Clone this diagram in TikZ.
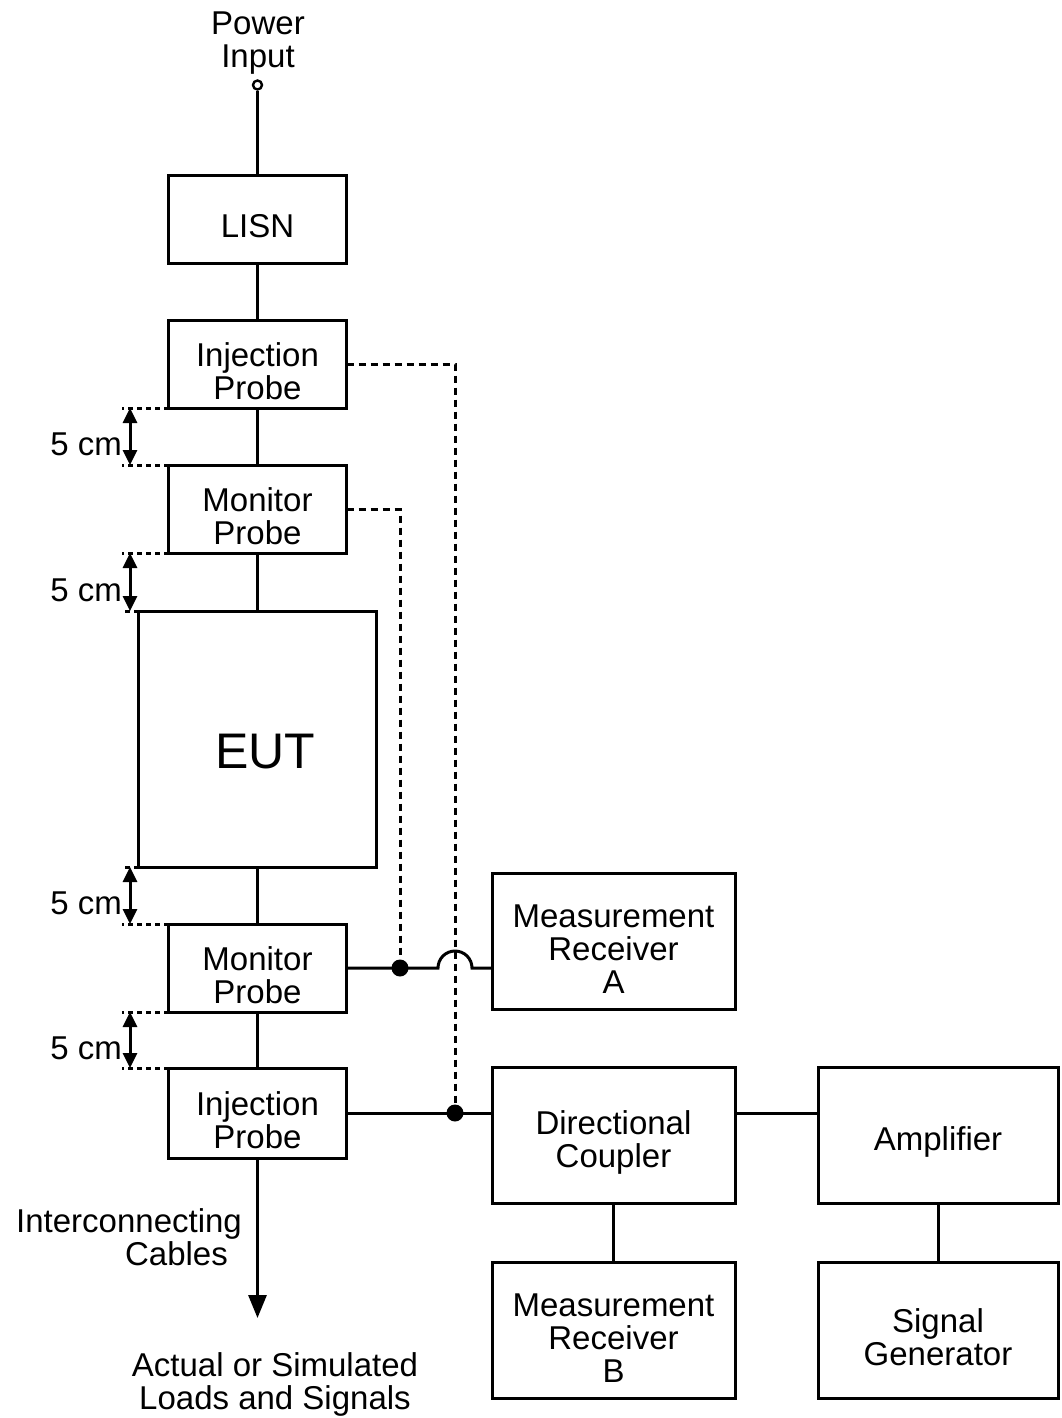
\documentclass[tikz,border=0pt]{standalone}
\usepackage{fontspec}
\setmainfont{Liberation Sans}
\usetikzlibrary{arrows.meta}
\newcommand\labelfont{\fontsize{16.5pt}{16.5pt}\selectfont}
\newcommand\boxstrut{\rule{0pt}{19pt}}

\begin{document}
\begin{tikzpicture}[x=0.5pt, y=-0.5pt, line width=1.5pt,
  box/.style={draw, align=center, font=\labelfont, inner sep=0pt, outer sep=0pt},
  probe/.style={box, minimum width=89pt, minimum height=44pt},
  unit/.style={box, minimum width=121.5pt, minimum height=68pt},
  signal/.style={dash pattern=on 3.5pt off 2.5pt},
  dimline/.style={dash pattern=on 2.5pt off 2pt},
  dimtip/.tip={Triangle[width=7pt,length=7.5pt]}]
\useasboundingbox (0,0) rectangle (1061,1418);

\node[circle, draw, line width=1.2pt, inner sep=0pt, minimum size=4.5pt] (pin) at (257.5,85) {};
\node[font=\labelfont, align=center] (power) at (258,43) {Power\\Input};

\node[probe] (lisn) at (257.5,219) {\boxstrut LISN};
\node[probe] (injtop) at (257.5,364) {\boxstrut Injection\\Probe};
\node[probe] (montop) at (257.5,509) {\boxstrut Monitor\\Probe};
\node[draw, outer sep=0pt, minimum width=119pt, minimum height=128pt,
  label={[font=\fontsize{25pt}{25pt}\selectfont, xshift=4pt, yshift=-6.5pt]center:EUT}] (eut) at (257.5,739) {};
\node[probe] (monbot) at (257.5,968) {\boxstrut Monitor\\Probe};
\node[probe, minimum height=45pt] (injbot) at (257.5,1113) {\boxstrut Injection\\Probe};

\node[unit] (recA) at (613.5,941.5) {\boxstrut Measurement\\Receiver\\A};
\node[unit] (coupler) at (613.5,1135) {\boxstrut Directional\\Coupler};
\node[unit, minimum width=120pt] (amp) at (938,1135) {\boxstrut Amplifier};
\node[unit] (recB) at (613.5,1330) {\boxstrut Measurement\\Receiver\\B};
\node[unit, minimum width=120pt] (siggen) at (938,1330) {\boxstrut Signal\\Generator};

\coordinate (jA) at (400,968);
\coordinate (jB) at (455,1113);
\coordinate (hop) at (455,968);
\coordinate (cableend) at (257.5,1318);
\coordinate (dimx) at (122,0);
\coordinate (dimarr) at (130,0);

\draw (pin) -- (lisn);
\draw (lisn) -- (injtop);
\draw (injtop) -- (montop);
\draw (montop) -- (eut);
\draw (eut) -- (monbot);
\draw (monbot) -- (injbot);
\draw[-{Triangle[width=9pt,length=11.5pt]}] (injbot) -- (cableend);

\draw (monbot.east) -- (jA) -- ([xshift=-8.5pt]hop) arc[start angle=180, end angle=0, radius=8.5pt] -- (recA.west |- hop);
\draw (injbot.east) -- (jB) -- (coupler.west |- jB);
\draw (coupler.east |- jB) -- (amp.west |- jB);
\draw (coupler) -- (recB);
\draw (amp) -- (siggen);

\draw[signal] (injtop.east) -- (injtop.east -| jB) -- (jB);
\draw[signal] (montop.east) -- (montop.east -| jA) -- (jA);
\fill (jA) circle (4.25pt) (jB) circle (4.25pt);

\foreach \a/\b in {injtop/montop, montop/eut, eut/monbot, monbot/injbot}{
  \draw[dimline] (\a.south west) -- (\a.south west -| dimx);
  \draw[dimline] (\b.north west) -- (\b.north west -| dimx);
  \draw[dimtip-dimtip] (\a.south west -| dimarr) -- node[left, font=\labelfont, yshift=-4pt] {5 cm} (\b.north west -| dimarr);
}

\node[font=\labelfont, align=right, anchor=east] (cables) at (250,1237) {Interconnecting\\Cables\hspace*{7pt}};
\node[font=\labelfont, align=center] (loads) at (275,1384) {Actual or Simulated\\Loads and Signals};
\end{tikzpicture}
\end{document}
